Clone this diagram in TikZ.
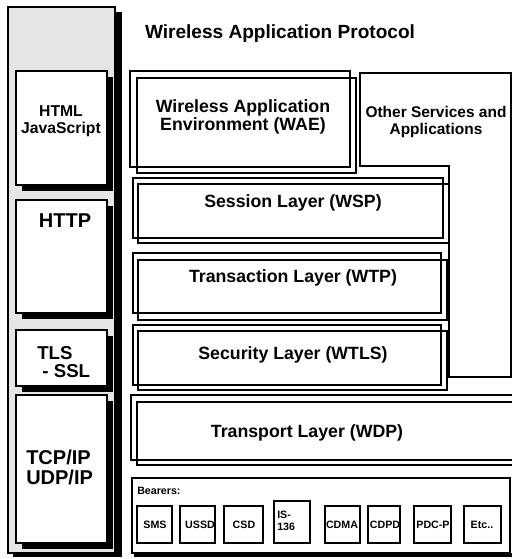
\documentclass[tikz,border=0pt]{standalone}
\usepackage{fontspec}
\setmainfont{Liberation Sans}
\tikzset{
  box/.style={line width=0.8},
  layertext/.style={inner sep=0.75pt, font=\fontsize{13.3}{13.5}\selectfont\bfseries, align=center},
  stacktext/.style={inner sep=0.75pt, font=\fontsize{15}{12.75}\selectfont\bfseries, align=left},
  bearertext/.style={inner sep=0.75pt, font=\fontsize{8}{9}\selectfont\bfseries, align=left}
}
\begin{document}
\begin{tikzpicture}[x=0.75pt,y=0.75pt,yscale=-1,xscale=1]
\path[use as bounding box] (0,0) rectangle (512,559);

%Left stack (internet side)
\draw[box, fill=black!10] (8,7) rectangle (115,553);
\fill (115,12) rectangle (122,557);
\fill (13,553) rectangle (122,557);
%HTML box
\fill (22,77) rectangle (113,191);
\draw[box, fill=white] (16,71) rectangle (107,185);
%HTTP box
\fill (22,206) rectangle (113,319);
\draw[box, fill=white] (16,200) rectangle (107,313);
%TLS box
\fill (22,336) rectangle (113,392);
\draw[box, fill=white] (16,330) rectangle (107,386);
%TCP box
\fill (22,401) rectangle (113,549);
\draw[box, fill=white] (16,395) rectangle (107,543);

%WAE
\draw[box] (130,71) rectangle (350,167);
\draw[box] (137,78) rectangle (356,173);
%Other services
\draw[box] (449,166) -- (360,166) -- (360,73) -- (511,73) -- (511,377) -- (449,377) -- cycle;
%Session
\draw[box] (133,178) rectangle (443,238);
\draw[box] (138,184) rectangle (449,243);
%Transaction
\draw[box] (133,253) rectangle (441,313);
\draw[box] (138,260) rectangle (447,320);
%Security
\draw[box] (133,325) rectangle (441,385);
\draw[box] (138,331) rectangle (447,390);
%Transport
\draw[box] (512,395) -- (131,395) -- (131,460) -- (512,460);
\draw[box] (512,402) -- (137,402) -- (137,465) -- (512,465);

%Bearers
\draw[box] (132,478) rectangle (510,553);
\fill (134,553) rectangle (512,557);
\draw[box] (137,506) rectangle (172,543);
\draw[box] (180,506) rectangle (215,543);
\draw[box] (224,506) rectangle (263,543);
\draw[box] (274,501) rectangle (310,543);
\draw[box] (325,506) rectangle (360,543);
\draw[box] (368,506) rectangle (400,543);
\draw[box] (414,506) rectangle (451,543);
\draw[box] (464,506) rectangle (501,543);

% Text Node
\node[layertext, font=\fontsize{14.3}{15}\selectfont\bfseries] (title) at (280,34) {Wireless Application Protocol};
% Text Node
\node[layertext, font=\fontsize{11.8}{12.75}\selectfont\bfseries] (html) at (61,121) {HTML\\JavaScript};
% Text Node
\node[stacktext] (http) at (65,221) {HTTP};
% Text Node
\node[stacktext, font=\fontsize{14}{13.5}\selectfont\bfseries, anchor=west] (tls) at (36,362) {TLS\\\ - SSL};
% Text Node
\node[stacktext, font=\fontsize{15}{15}\selectfont\bfseries, anchor=west] (tcp) at (25,467) {TCP/IP\\UDP/IP};
% Text Node
\node[layertext] (wae) at (243,117) {Wireless Application\\Environment (WAE)};
% Text Node
\node[layertext, font=\fontsize{11.6}{12.75}\selectfont\bfseries] (other) at (436,122) {Other Services and\\Applications};
% Text Node
\node[layertext] (wsp) at (293,203) {Session Layer (WSP)};
% Text Node
\node[layertext] (wtp) at (293,278) {Transaction Layer (WTP)};
% Text Node
\node[layertext] (wtls) at (293,355) {Security Layer (WTLS)};
% Text Node
\node[layertext] (wdp) at (307,433) {Transport Layer (WDP)};
% Text Node
\node[bearertext, anchor=west] (bearers) at (136,491) {Bearers:};
% Text Node
\node[bearertext] (sms) at (155,525) {SMS};
% Text Node
\node[bearertext] (ussd) at (200,525) {USSD};
% Text Node
\node[bearertext] (csd) at (244,525) {CSD};
% Text Node
\node[bearertext, anchor=west] (is136) at (276,521) {IS-\\136};
% Text Node
\node[bearertext] (cdma) at (342,525) {CDMA};
% Text Node
\node[bearertext] (cdpd) at (385,525) {CDPD};
% Text Node
\node[bearertext] (pdcp) at (433,525) {PDC-P};
% Text Node
\node[bearertext] (etc) at (482,525) {Etc..};

\end{tikzpicture}
\end{document}
